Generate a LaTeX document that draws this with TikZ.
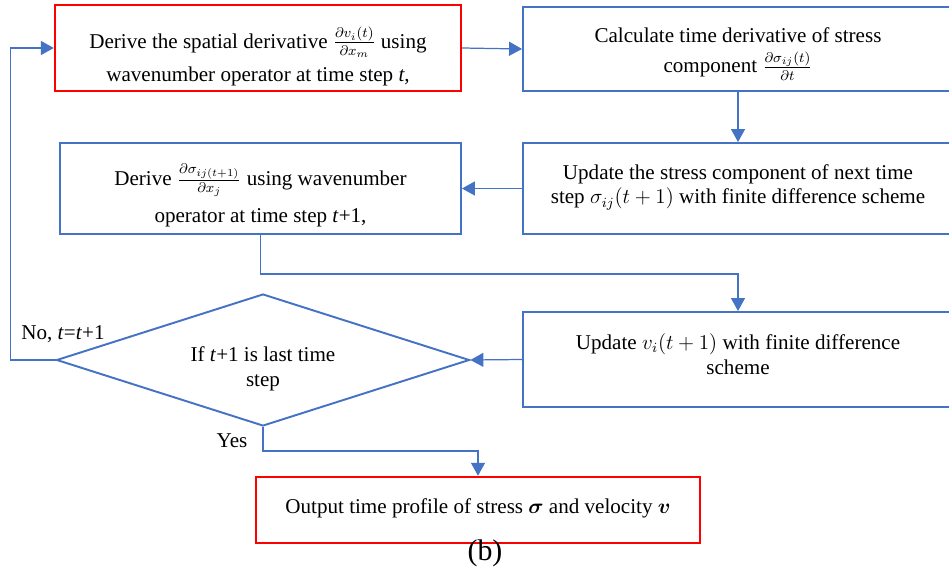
\documentclass[tikz,border=0pt]{standalone}
\usepackage{amsmath}
\usepackage{fontspec}
\setmainfont{Liberation Serif}
\usetikzlibrary{positioning, arrows.meta, shapes.geometric}
\definecolor{flowblue}{RGB}{68,114,196}
\definecolor{flowred}{RGB}{255,0,0}

\begin{document}
\begin{tikzpicture}[x=0.02cm, y=-0.02cm,
  every node/.style={font=\fontsize{12}{14.2}\selectfont},
  b/.style={draw=flowblue, line width=1.1pt, align=center, inner sep=0pt},
  r/.style={draw=flowred, line width=1.4pt, align=center, inner sep=0pt},
  arr/.style={draw=flowblue, line width=0.7pt, -{Triangle[length=0.26cm, width=0.28cm]}}]
 \useasboundingbox (0,0) rectangle (949,571);
 % boxes
 \node[r, minimum width=8.12cm, minimum height=1.72cm, text height=1.46cm, text depth=0.1cm] (deriv) at (258,48) {Derive the spatial derivative $\frac{\partial v_i(t)}{\partial x_m}$ using\\[0.18cm]wavenumber operator at time step \textit{t},};
 \node[b, minimum width=8.6cm, minimum height=1.68cm, text height=1.16cm, text depth=0.2cm] (dtime) at (738,49) {Calculate time derivative of stress\\[0.12cm]component $\frac{\partial \sigma_{ij}(t)}{\partial t}$};
 \node[b, minimum width=8.6cm, minimum height=1.82cm, text height=0.82cm, text depth=0.2cm] (updsig) at (738,188.5) {Update the stress component of next time\\step $\sigma_{ij}(t+1)$ with finite difference scheme};
 \node[b, minimum width=8.02cm, minimum height=1.82cm, text height=1.56cm, text depth=0.2cm] (dersig) at (260.5,188.5) {Derive $\frac{\partial \sigma_{ij(t+1)}}{\partial x_j}$ using wavenumber\\[0.2cm]operator at time step \textit{t}+1,};
 \node[b, minimum width=8.6cm, minimum height=1.9cm, text height=0.78cm, text depth=0.2cm] (updv) at (738,359.5) {Update $v_i(t+1)$ with finite difference\\scheme};
 \node[b, diamond, shape aspect=3, minimum width=8.26cm, minimum height=2.64cm, text height=1.16cm, text depth=0.1cm] (check) at (263,360) {If \textit{t}+1 is last time\\step};
 \node[r, minimum width=8.88cm, minimum height=1.32cm, text height=0.32cm, text depth=0.2cm] (output) at (478,510) {Output time profile of stress $\boldsymbol{\sigma}$ and velocity $\boldsymbol{v}$};
 % labels
 \node (nolbl) at (63,334) {No, \textit{t}=\textit{t}+1};
 \node (yeslbl) at (232,441) {Yes};
 \node[font=\fontsize{17}{19}\selectfont] (caption) at (485,553) {(b)};
 % connectors
 \draw[arr] (deriv.east) -- (dtime.west);
 \draw[arr] (dtime.south) -- (updsig.north);
 \draw[arr] (updsig.west) -- (dersig.east);
 \draw[arr] (dersig.south) -- ++(0,39) -| (updv.north);
 \draw[arr] (updv.west) -- (check.east);
 \draw[arr] (check.south) -- ++(0,24) -| (output.north);
 \draw[arr] (check.west) -- ++(-45,0) |- (deriv.west);
\end{tikzpicture}
\end{document}
